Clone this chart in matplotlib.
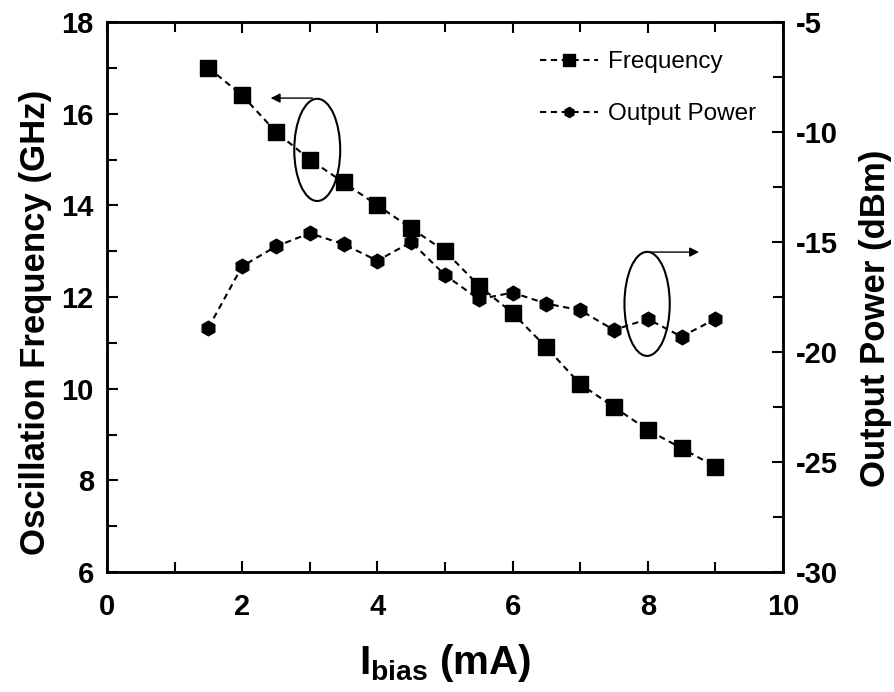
import numpy as np
import matplotlib
matplotlib.use('Agg')
import matplotlib.pyplot as plt
from matplotlib.patches import Ellipse
from matplotlib.ticker import MultipleLocator

plt.rcParams['font.family'] = ['Liberation Sans', 'DejaVu Sans']
plt.rcParams['axes.unicode_minus'] = False
plt.rcParams['mathtext.fontset'] = 'custom'
plt.rcParams['mathtext.rm'] = 'Liberation Sans:bold'
plt.rcParams['mathtext.bf'] = 'Liberation Sans:bold'

# bias current (mA)
i_bias = [1.5, 2, 2.5, 3, 3.5, 4, 4.5, 5, 5.5, 6, 6.5, 7, 7.5, 8, 8.5, 9]
# oscillation frequency (GHz)
freq = [17.0, 16.4, 15.6, 15.0, 14.5, 14.0, 13.5, 13.0, 12.25, 11.65,
        10.9, 10.1, 9.6, 9.1, 8.7, 8.3]
# output power (dBm)
power = [-18.9, -16.1, -15.2, -14.6, -15.1, -15.85, -15.0, -16.5, -17.6,
         -17.3, -17.8, -18.1, -19.0, -18.5, -19.3, -18.5]

fig = plt.figure(figsize=(8.94, 6.92), dpi=100)
ax1 = fig.add_axes([0.1197, 0.1734, 0.7561, 0.7948])
ax2 = ax1.twinx()

dash = (0, (3, 2.2))
l1, = ax1.plot(i_bias, freq, color='black', linestyle=dash, lw=1.5,
               marker='s', markersize=12, label='Frequency')
l2, = ax2.plot(i_bias, power, color='black', linestyle=dash, lw=1.5,
               marker='h', markersize=10.5, label='Output Power')

ax1.set_xlim(0, 10)
ax1.set_ylim(6, 18)
ax2.set_ylim(-30, -5)

ax1.xaxis.set_major_locator(MultipleLocator(2))
ax1.xaxis.set_minor_locator(MultipleLocator(1))
ax1.yaxis.set_major_locator(MultipleLocator(2))
ax1.yaxis.set_minor_locator(MultipleLocator(1))
ax2.yaxis.set_major_locator(MultipleLocator(5))
ax2.yaxis.set_minor_locator(MultipleLocator(2.5))

ax1.tick_params(axis='x', which='both', direction='in', top=True, width=1.5)
ax1.tick_params(axis='x', which='major', pad=15)
ax1.tick_params(axis='y', which='both', direction='in', right=False, width=1.5)
ax1.tick_params(axis='y', which='major', pad=9.5)
ax1.tick_params(which='major', length=8, labelsize=21)
ax1.tick_params(which='minor', length=7)
ax2.tick_params(which='both', direction='in', width=1.5)
ax2.tick_params(which='major', length=8, labelsize=21, pad=9)
ax2.tick_params(which='minor', length=7)

for ax in (ax1, ax2):
    for lab in ax.get_xticklabels() + ax.get_yticklabels():
        lab.set_fontweight('bold')
    for sp in ax.spines.values():
        sp.set_linewidth(1.8)

ax1.set_ylabel('Oscillation Frequency (GHz)', fontsize=25, fontweight='bold')
ax1.yaxis.set_label_coords(-0.081, 0.453)
ax2.set_ylabel('Output Power (dBm)', fontsize=25, fontweight='bold')
ax2.yaxis.set_label_coords(1.112, 0.462)
ax1.set_xlabel(r'$\mathbf{I_{bias}}$ (mA)', fontsize=29, fontweight='bold', labelpad=15)

# ellipses with arrows pointing to the relevant axis
ax1.add_patch(Ellipse((3.11, 15.21), 0.68, 2.23, fill=False, lw=1.5, color='black'))
ax1.annotate('', xy=(2.38, 16.34), xytext=(3.08, 16.34),
             arrowprops=dict(arrowstyle='-|>', color='black', lw=1, mutation_scale=14))
ax1.add_patch(Ellipse((7.99, 11.85), 0.67, 2.27, fill=False, lw=1.5, color='black'))
ax1.annotate('', xy=(8.8, 12.98), xytext=(7.99, 12.98),
             arrowprops=dict(arrowstyle='-|>', color='black', lw=1, mutation_scale=14))

fig.legend([l1, l2], ['Frequency', 'Output Power'], loc='upper left',
           bbox_to_anchor=(540 / 894, 1 - 51 / 692), bbox_transform=fig.transFigure,
           frameon=False, fontsize=17.5, handlelength=2.4, borderaxespad=0, borderpad=0,
           labelspacing=1.25, handletextpad=0.4, markerscale=0.7)

fig.savefig('out.png', dpi=100)
